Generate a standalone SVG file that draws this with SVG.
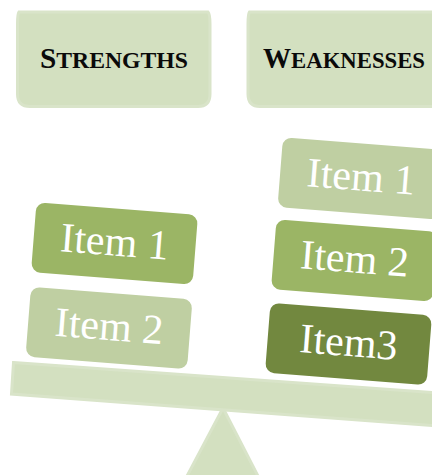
<svg xmlns="http://www.w3.org/2000/svg" width="432" height="475" viewBox="0 0 432 475">
<style>
.h{fill:#d3e0c0;stroke:#d9e4c9;stroke-width:3}
.hd{font-family:"Liberation Serif",serif;font-weight:700;fill:#0a0a0a;font-size:23.500px}
.hd .c{font-size:29px}
.it{font-family:"Liberation Serif",serif;fill:#fff;font-size:42px;text-anchor:middle}
.l{fill:#bfcfa2}.m{fill:#9bb565}.d{fill:#72883f}
</style>
<rect width="432" height="475" fill="#fff"/>
<g id="fulcrum"><path d="M223 408L259 478H186Z" class="h"/></g>
<g id="beam"><path d="M13.500 362.500L440 393V426L11.500 394Z" class="h"/></g>
<g id="strengths"><path d="M19 12Q17.500 14 17.500 24V94Q17.500 106.500 30 106.500H198Q210 106.500 210 94V24Q210 14 208 12Z" class="h"/><text x="40" y="68" class="hd" textLength="148" lengthAdjust="spacingAndGlyphs"><tspan class="c">S</tspan>TRENGTHS</text></g>
<g id="weaknesses"><path d="M249.500 12Q248 14 248 24V94Q248 106.500 260 106.500H440V12Z" class="h"/><text x="263" y="68" class="hd" textLength="162" lengthAdjust="spacingAndGlyphs"><tspan class="c">W</tspan>EAKNESSES</text></g>
<g id="s1" transform="translate(114.500 243.500) rotate(4.500)"><rect x="-81" y="-35" width="162" height="70" rx="9" class="m"/><text y="12" class="it">Item 1</text></g>
<g id="s2" transform="translate(109 328) rotate(4.500)"><rect x="-81" y="-35" width="162" height="70" rx="9" class="l"/><text y="12" class="it">Item 2</text></g>
<g id="w1" transform="translate(361 178.500) rotate(4.500)"><rect x="-81" y="-35" width="162" height="70" rx="9" class="l"/><text y="12" class="it">Item 1</text></g>
<g id="w2" transform="translate(354.500 260.500) rotate(4.500)"><rect x="-81" y="-35" width="162" height="70" rx="9" class="m"/><text y="12" class="it">Item 2</text></g>
<g id="w3" transform="translate(348.500 344) rotate(4.500)"><rect x="-81" y="-35" width="162" height="70" rx="9" class="d"/><text y="12" class="it">Item3</text></g>
</svg>
